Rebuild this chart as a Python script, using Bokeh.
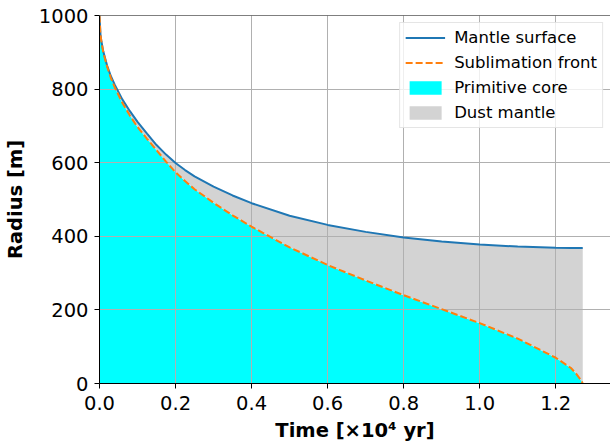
from bokeh.plotting import figure
from bokeh.models import (ColumnDataSource, Range1d, FixedTicker, NumeralTickFormatter,
                          Legend, LegendItem, Span)
from bokeh.embed import file_html
from bokeh.resources import INLINE

# Time in units of 10^4 yr
time = [0.0, 0.0025, 0.005, 0.01, 0.02, 0.03, 0.04, 0.06, 0.08, 0.10, 0.125, 0.15,
        0.175, 0.20, 0.225, 0.25, 0.30, 0.35, 0.40, 0.50, 0.60, 0.70, 0.80, 0.90,
        1.00, 1.10, 1.20, 1.24, 1.255, 1.265, 1.271]
# Radius of the mantle surface [m]
mantle_surface = [1000, 949, 930, 902, 864, 835, 812, 772, 740, 711, 679, 648,
                  622, 599, 580, 563, 535, 511, 490, 456, 431, 412, 397, 386,
                  378, 372, 369, 368, 368, 368, 368]
# Radius of the sublimation front [m]
sublimation_front = [1000, 948, 929, 900, 861, 830, 805, 763, 728, 697, 665, 634,
                     603, 574, 550, 528, 491, 457, 426, 370, 322, 280, 240, 202,
                     164, 122, 70, 42, 25, 11, 0]
zeros = [0] * len(time)

x_ticks = [0.0, 0.2, 0.4, 0.6, 0.8, 1.0, 1.2]
y_ticks = [0, 200, 400, 600, 800, 1000]

src = ColumnDataSource(dict(t=time, mantle=mantle_surface, front=sublimation_front, zero=zeros))

FONT = "DejaVu Sans"

p = figure(width=610, height=447, output_backend="svg", toolbar_location=None,
           x_range=Range1d(0, 1.344), y_range=Range1d(0, 1000),
           min_border_left=98, min_border_right=0, min_border_top=15, min_border_bottom=64)
p.background_fill_color = "white"
p.border_fill_color = "white"
p.outline_line_color = None

core = p.varea(x="t", y1="zero", y2="front", source=src, fill_color="#00ffff", level="image")
dust = p.varea(x="t", y1="front", y2="mantle", source=src, fill_color="#d3d3d3", level="image")
ms = p.line(x="t", y="mantle", source=src, line_color="#1f77b4", line_width=2)
sf = p.line(x="t", y="front", source=src, line_color="#ff7f0e", line_width=2, line_dash="7 3")

# top spine
p.add_layout(Span(location=1000, dimension="width", line_color="black", line_width=1))

for g in (p.xgrid, p.ygrid):
    g.grid_line_color = "#b0b0b0"
    g.grid_line_width = 1

p.xaxis.ticker = FixedTicker(ticks=x_ticks)
p.yaxis.ticker = FixedTicker(ticks=y_ticks)
p.xaxis.formatter = NumeralTickFormatter(format="0.0")
p.xgrid.ticker = FixedTicker(ticks=x_ticks)
p.ygrid.ticker = FixedTicker(ticks=y_ticks)

p.xaxis.axis_label = "Time [×10⁴ yr]"
p.yaxis.axis_label = "Radius [m]"
for ax in (p.xaxis[0], p.yaxis[0]):
    ax.axis_line_color = "black"
    ax.axis_line_width = 1
    ax.major_tick_line_color = "black"
    ax.major_tick_out = 5
    ax.major_tick_in = 0
    ax.minor_tick_line_color = None
    ax.major_label_text_font = FONT
    ax.major_label_text_font_size = "19.5px"
    ax.major_label_text_color = "black"
    ax.axis_label_text_font = FONT
    ax.axis_label_text_font_size = "19.5px"
    ax.axis_label_text_font_style = "bold"
    ax.axis_label_text_color = "black"
p.xaxis.major_label_standoff = 7
p.xaxis.axis_label_standoff = 6
p.yaxis.major_label_standoff = 6
p.yaxis.axis_label_standoff = 9

legend = Legend(items=[
    LegendItem(label="Mantle surface", renderers=[ms]),
    LegendItem(label="Sublimation front", renderers=[sf]),
    LegendItem(label="Primitive core", renderers=[core]),
    LegendItem(label="Dust mantle", renderers=[dust]),
], location="top_right")
legend.margin = 7
legend.padding = 5
legend.spacing = 6
legend.glyph_width = 40
legend.glyph_height = 17
legend.label_height = 19
legend.label_standoff = 9
legend.label_text_font = FONT
legend.label_text_font_size = "16.5px"
legend.label_text_color = "black"
legend.border_line_color = "#cccccc"
legend.border_line_width = 1
legend.background_fill_color = "white"
legend.background_fill_alpha = 0.8
p.add_layout(legend, "center")

open("out.html", "w").write(file_html(p, INLINE))
